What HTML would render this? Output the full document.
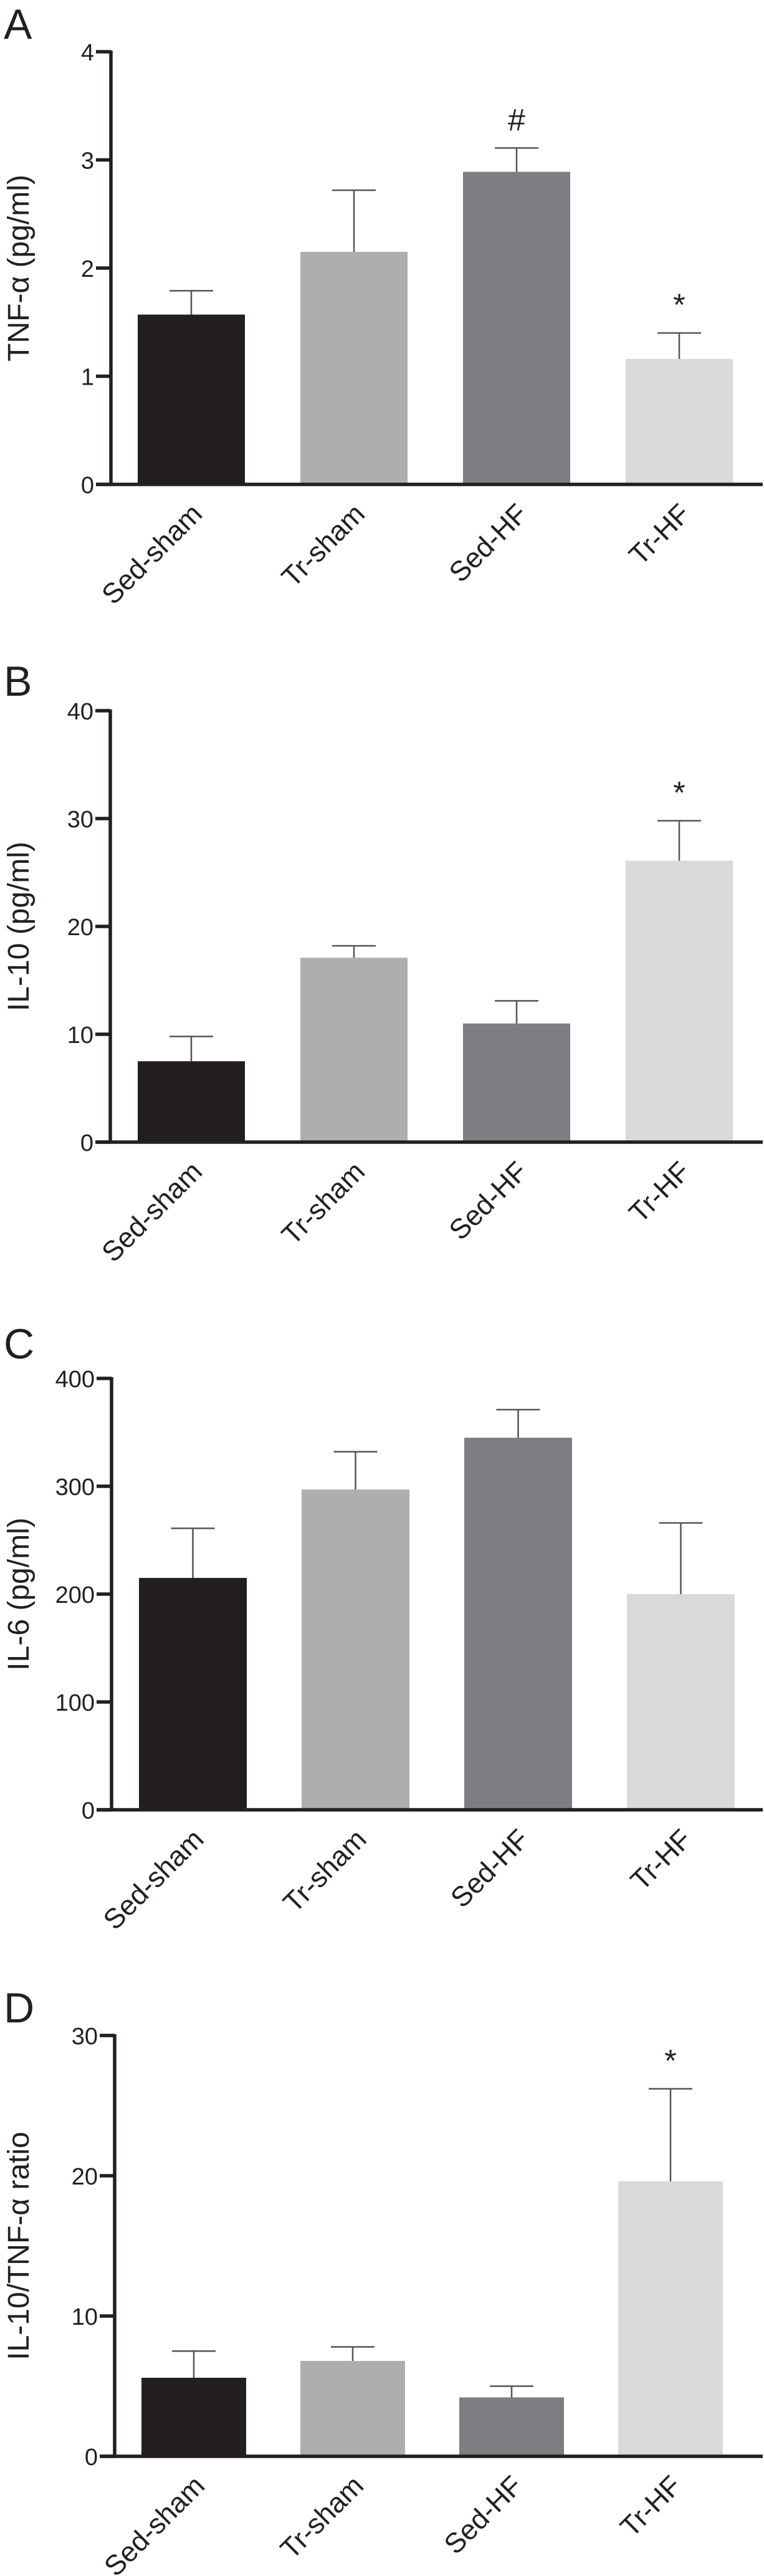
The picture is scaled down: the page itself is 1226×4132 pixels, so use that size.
<!DOCTYPE html>
<html><head><meta charset="utf-8">
<style>
html,body{margin:0;padding:0;background:#fff;}
svg{display:block;}
text{font-family:"Liberation Sans",Arial,sans-serif;fill:#231f20;}
</style></head>
<body>
<svg id="fig" width="1226" height="4132" viewBox="0 0 1226 4132" xmlns="http://www.w3.org/2000/svg"></svg>
<script>
const categories = ["Sed-sham","Tr-sham","Sed-HF","Tr-HF"];
const tnfValues = [1.57, 2.15, 2.89, 1.16];
const tnfErrors = [1.79, 2.72, 3.11, 1.40];
const tnfTicks = [0,1,2,3,4];
const tnfMarks = ["", "", "#", "*"];
const il10Values = [7.5, 17.1, 11.0, 26.1];
const il10Errors = [9.8, 18.2, 13.1, 29.8];
const il10Ticks = [0,10,20,30,40];
const il10Marks = ["", "", "", "*"];
const il6Values = [215, 297, 345, 200];
const il6Errors = [261, 332, 371, 266];
const il6Ticks = [0,100,200,300,400];
const il6Marks = ["", "", "", ""];
const ratioValues = [5.6, 6.8, 4.2, 19.6];
const ratioErrors = [7.5, 7.8, 5.0, 26.2];
const ratioTicks = [0,10,20,30];
const ratioMarks = ["", "", "", "*"];

const colors = ["#231f20","#adaeb0","#7d7e82","#d8d9db"];
const NS = "http://www.w3.org/2000/svg";
const svg = document.getElementById("fig");
function mk(tag, attrs, parent){
  const e = document.createElementNS(NS, tag);
  for (const k in attrs) e.setAttribute(k, attrs[k]);
  (parent||svg).appendChild(e);
  return e;
}
function panel(cfg){
  const g = mk("g", {});
  
  
  const maxV = cfg.ticks[cfg.ticks.length-1];
  const y = v => cfg.y0 - (v/maxV)*(cfg.y0 - cfg.yTop);
  const xBar = i => cfg.barLeft + i*cfg.step;
  const L = mk("text", {x:6, y:cfg.letterY, "font-size":68}, g);
  L.textContent = cfg.letter;
  
  
  for (let i=0;i<categories.length;i++){
    const top = y(cfg.values[i]);
    const r = mk("rect", {x:xBar(i), y:top, width:cfg.barW, height:cfg.y0-top, fill:colors[i]}, g);
    
    
    const cx = xBar(i)+cfg.barW/2, et = y(cfg.errors[i]);
    const eb = mk("path", {d:`M${cx} ${top}V${et}M${cx-35} ${et}H${cx+35}`, stroke:"#555", "stroke-width":2.5, fill:"none"}, g);
    
    
    if (cfg.marks[i]){
      const m = mk("text", {x:cx, y:et-28, "font-size":50, "text-anchor":"middle"}, g);
      m.textContent = cfg.marks[i];
      
      
    }
    const lx = cx+20, ly = cfg.y0+50;
    const t = mk("text", {x:lx, y:ly, "font-size":45, "text-anchor":"end", transform:`rotate(-45 ${lx} ${ly})`}, g);
    t.textContent = categories[i];
    
    
  }
  const ax = mk("path", {d:`M${cfg.axisX} ${cfg.yTop-2}V${cfg.y0}M${cfg.axisX-24} ${cfg.y0}H1224`, stroke:"#231f20", "stroke-width":5.5, fill:"none"}, g);
  
  
  for (const tv of cfg.ticks){
    const ty = y(tv);
    const tk = mk("line", {x1:cfg.axisX-24, x2:cfg.axisX, y1:ty, y2:ty, stroke:"#231f20", "stroke-width":5.5}, g);
    
    
    const tl = mk("text", {x:cfg.axisX-27, y:ty+14, "font-size":38, "text-anchor":"end"}, g);
    tl.textContent = tv;
    
    
  }
  const cy = (cfg.yTop+cfg.y0)/2;
  const yt = mk("text", {x:46, y:cy, "font-size":48, "text-anchor":"middle", transform:`rotate(-90 46 ${cy})`}, g);
  yt.textContent = cfg.title;
  
  
}
panel({letter:"A", letterY:62, title:"TNF-α (pg/ml)", values:tnfValues, errors:tnfErrors, ticks:tnfTicks, marks:tnfMarks, yTop:83, y0:777, axisX:178, barLeft:221, barW:172, step:261});
panel({letter:"B", letterY:1116, title:"IL-10 (pg/ml)", values:il10Values, errors:il10Errors, ticks:il10Ticks, marks:il10Marks, yTop:1140, y0:1832, axisX:177, barLeft:221, barW:172, step:261});
panel({letter:"C", letterY:2179, title:"IL-6 (pg/ml)", values:il6Values, errors:il6Errors, ticks:il6Ticks, marks:il6Marks, yTop:2211, y0:2903, axisX:179, barLeft:223, barW:173, step:261});
panel({letter:"D", letterY:3244, title:"IL-10/TNF-α ratio", values:ratioValues, errors:ratioErrors, ticks:ratioTicks, marks:ratioMarks, yTop:3265, y0:3940, axisX:184, barLeft:227, barW:168, step:255});
</script>
</body></html>
